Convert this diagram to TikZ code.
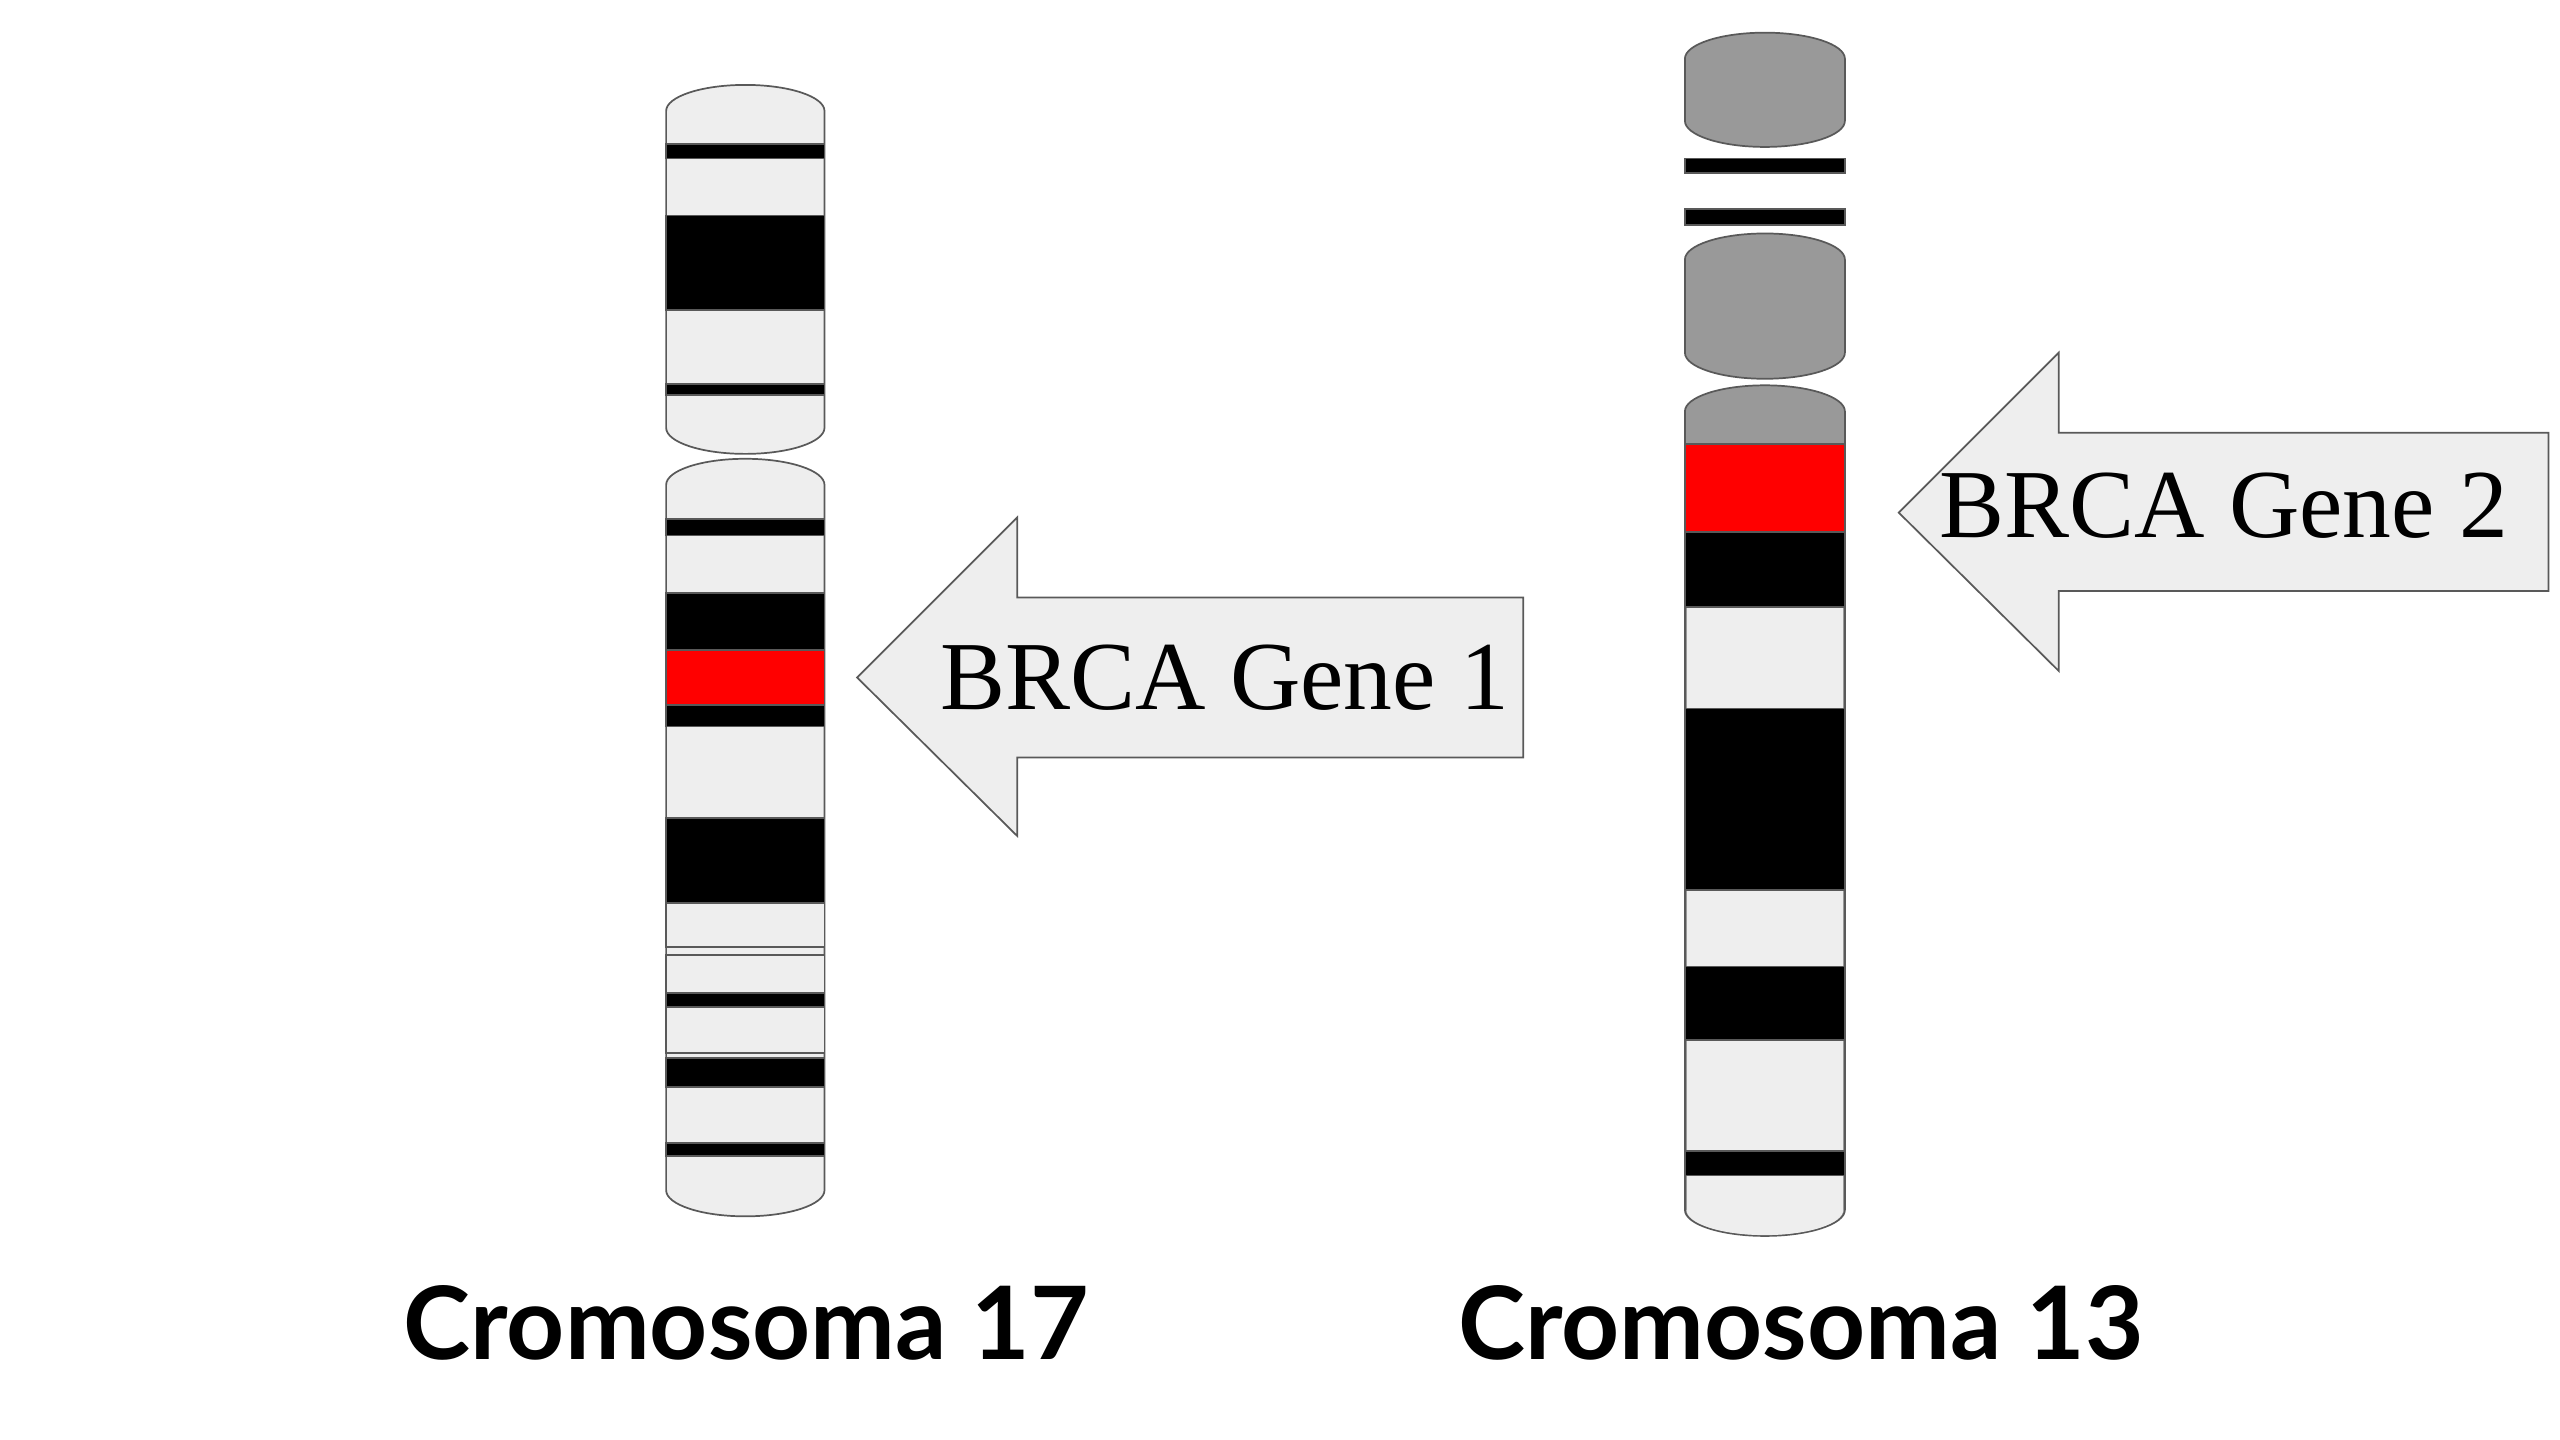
\documentclass[tikz,border=0pt]{standalone}
\usepackage{fontspec}
\newfontfamily\titlefont{Lato}
\setmainfont{Liberation Serif}
\definecolor{bandlight}{HTML}{EEEEEE}
\definecolor{bandgray}{HTML}{999999}
\definecolor{bandred}{HTML}{FF0000}
\tikzset{
  outline/.style={draw=black!65,line width=0.6pt},
  band/.style={outline,fill=#1},
  bigarrow/.style={outline,fill=bandlight},
  armlabel/.style={font=\fontsize{34}{40}\selectfont},
  chromtitle/.style={font=\titlefont\bfseries\fontsize{35.3}{42}\selectfont}
}
% arm of a chromosome: x1, x2, top, bottom, cap height, fill
\newcommand\chromarm[6]{%
  \pgfmathsetmacro\armr{(#2-#1)/2}
  \draw[band=#6] (#1,#3+#5) arc[start angle=180,end angle=360,x radius=\armr,y radius=#5]
    -- (#2,#4-#5) arc[start angle=0,end angle=180,x radius=\armr,y radius=#5] -- cycle;}
\begin{document}
\begin{tikzpicture}[x=0.02cm,y=-0.02cm]
\useasboundingbox (0,0) rectangle (1568,882);
% cromosoma 17
\chromarm{408}{505}{52}{278}{16}{bandlight}
\foreach \a/\b/\c in {88/97/black,132/190/black,235/242/black}
  \draw[band=\c] (408,\a) rectangle (505,\b);
\chromarm{408}{505}{281}{745}{16}{bandlight}
\foreach \a/\b/\c in {318/328/black,363/398/black,398/432/bandred,432/445/black,
  501/553/black,553/580/bandlight,585/645/bandlight,608/617/black,648/666/black,700/708/black}
  \draw[band=\c] (408,\a) rectangle (505,\b);
% cromosoma 13
\chromarm{1032}{1130}{20}{90}{16}{bandgray}
\draw[band=black] (1032,97) rectangle (1130,106);
\draw[band=black] (1032,128) rectangle (1130,138);
\chromarm{1032}{1130}{143}{232}{16}{bandgray}
\chromarm{1032}{1130}{236}{757}{16}{bandgray}
\fill[bandlight] (1033,272) rectangle (1129,741);
\foreach \a/\b/\c in {272/326/bandred,326/372/black,434/545/black,
  592/637/black,705/720/black}
  \draw[band=\c] (1032,\a) rectangle (1130,\b);
\fill[bandlight] (1033,741) arc[start angle=180,end angle=0,x radius=48,y radius=15.5] -- cycle;
% flechas
\draw[bigarrow] (525,415) -- (623,317) -- (623,366) -- (933,366) -- (933,464)
  -- (623,464) -- (623,512) -- cycle;
\node[armlabel] (gene1) at (750,415) {BRCA Gene 1};
\draw[bigarrow] (1163,314) -- (1261,216) -- (1261,265) -- (1561,265) -- (1561,362)
  -- (1261,362) -- (1261,411) -- cycle;
\node[armlabel] (gene2) at (1362,310) {BRCA Gene 2};
% titulos
\node[chromtitle] (t17) at (457,810) {Cromosoma 17};
\node[chromtitle] (t13) at (1103,810) {Cromosoma 13};
\end{tikzpicture}
\end{document}
